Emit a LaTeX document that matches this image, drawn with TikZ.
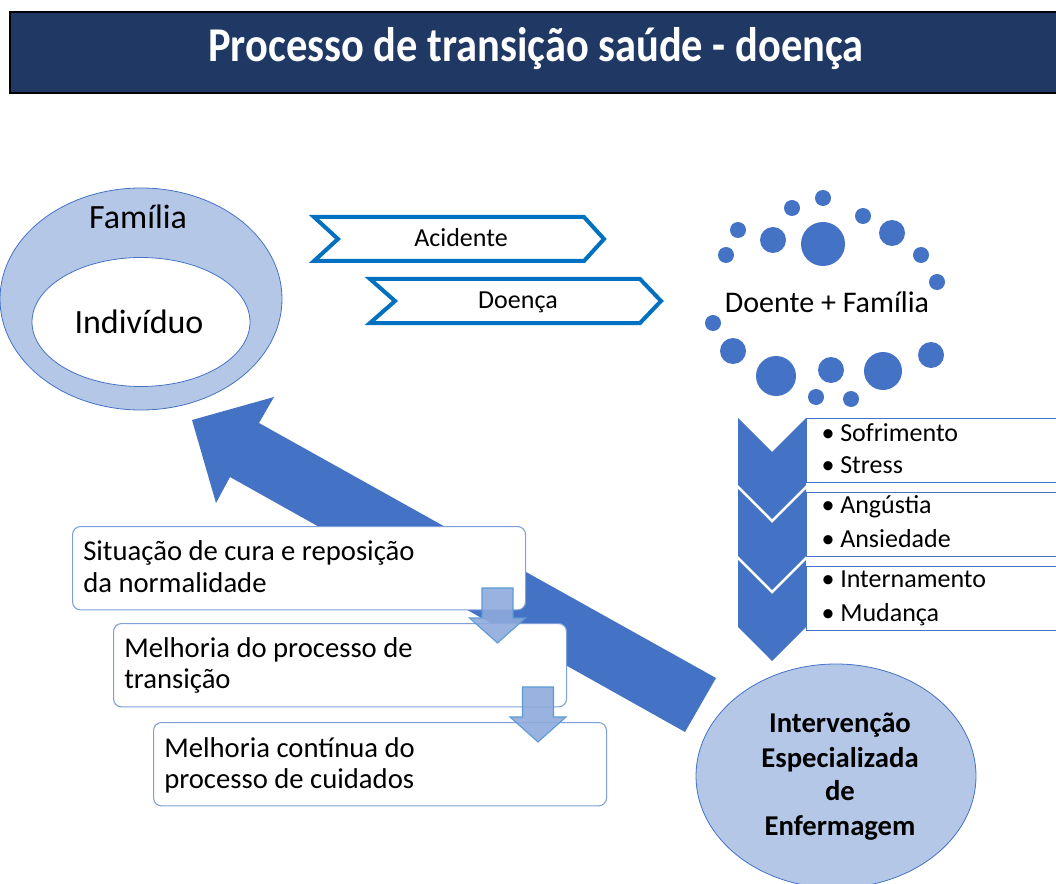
\documentclass[tikz,border=0pt]{standalone}
\usepackage{fontspec}
\setmainfont{Carlito}
\usetikzlibrary{shapes.geometric}
\definecolor{navy}{HTML}{203864}
\definecolor{paleblue}{HTML}{B4C7E7}
\definecolor{accent}{HTML}{4472C4}
\definecolor{chevblue}{HTML}{0070C0}
\definecolor{boxline}{HTML}{7F9FD8}
\definecolor{downfill}{HTML}{8FAADC}
\definecolor{downline}{HTML}{5B9BD5}

\tikzset{
  oval/.style={ellipse, draw=accent, fill=paleblue, line width=0.6pt, inner sep=0pt},
  txt/.style={inner sep=0pt, anchor=base},
  chev/.style={draw=chevblue, fill=white, line width=3pt, line join=miter},
  stepbox/.style={draw=boxline, fill=white, line width=0.8pt, rounded corners=6pt,
    minimum width=339.75pt, minimum height=62.5pt, anchor=north west, inner sep=0pt},
  listbox/.style={draw=accent, fill=white, line width=0.6pt}
}

\begin{document}
\begin{tikzpicture}[x=0.75pt, y=-0.75pt]
    \useasboundingbox (0,0) rectangle (1056,884);

    % Title
    \draw[line width=1.5pt, fill=navy] (10,12) rectangle (1075,93);
    \node[txt, text=white, font=\bfseries\fontsize{32.5}{36}\selectfont] (title) at (536,62)
        {\scalebox{0.98}[1.12]{Processo de transição saúde - doença}};

    % Família / Indivíduo
    \node[oval, minimum width=211.5pt, minimum height=166.5pt] (familia) at (141,299) {};
    \node[oval, fill=white, minimum width=163.5pt, minimum height=96.75pt] (individuo) at (141,322) {};
    \node[txt, font=\fontsize{25.5}{30}\selectfont] (familiatxt) at (138,229) {Família};
    \node[txt, font=\fontsize{25.5}{30}\selectfont] (individuotxt) at (139,333) {Indivíduo};

    % Acidente, Doença
    \draw[chev] (314,217) -- (584,217) -- (604,239) -- (584,261) -- (314,261) -- (338,239) -- cycle;
    \draw[chev] (370,279) -- (640,279) -- (661,301) -- (640,323) -- (370,323) -- (395,301) -- cycle;
    \node[txt, font=\fontsize{19.5}{23}\selectfont] (acidente) at (461,247) {Acidente};
    \node[txt, font=\fontsize{19.5}{23}\selectfont] (doenca) at (518,308) {Doença};

    % Doente + Família
    \foreach \x/\y/\r in {823/198/8, 792/208/8, 863/216/8, 738/230/8, 773/240/13,
                          823/244/22, 892/233/13, 726/255/8, 921/255/8, 937/282/8,
                          713/323/8, 733/351/13, 776/376/20, 831/370/13, 883/371/19,
                          931/355/13, 816/397/8, 851/399/8} {
        \fill[accent] (\x,\y) circle[radius=\r*0.75pt];
    }
    \node[txt, font=\fontsize{22.5}{27}\selectfont] (doente) at (827,312) {Doente + Família};

    % Big return arrow
    \fill[accent] (192,420) -- (274,397) -- (259,423) -- (716,678) -- (685,732)
        -- (230,477) -- (216,503) -- cycle;

    % Chevron list
    \foreach \t in {418, 489, 560} {
        \fill[accent] (738,\t) -- (772,\t+34) -- (806,\t) -- (806,\t+67)
            -- (772,\t+101) -- (738,\t+67) -- cycle;
    }
    \draw[listbox] (806,418) rectangle (1075,482);
    \draw[listbox] (806,492) rectangle (1075,556);
    \draw[listbox] (806,566) rectangle (1075,630);
    \foreach \y/\item in {441/Sofrimento, 473/Stress, 513/Angústia, 547/Ansiedade,
                          587/Internamento, 621/Mudança} {
        \node[txt, font=\fontsize{19.5}{23}\selectfont] at (828,\y) {\textbullet};
        \node[txt, anchor=base west, font=\fontsize{19.5}{23}\selectfont] at (840,\y) {\item};
    }

    % Steps
    \node[stepbox] (cura) at (72,526) {};
    \node[stepbox] (transicao) at (113,623) {};
    \node[stepbox] (cuidados) at (153,722) {};
    \node[txt, anchor=base west, font=\fontsize{21.5}{23.6}\selectfont] at (83,560)
        {Situação de cura e reposição};
    \node[txt, anchor=base west, font=\fontsize{21.5}{23.6}\selectfont] at (83,592)
        {da normalidade};
    \node[txt, anchor=base west, font=\fontsize{21.5}{23.6}\selectfont] at (124,657)
        {Melhoria do processo de};
    \node[txt, anchor=base west, font=\fontsize{21.5}{23.6}\selectfont] at (124,688)
        {transição};
    \node[txt, anchor=base west, font=\fontsize{21.5}{23.6}\selectfont] at (164,757)
        {Melhoria contínua do};
    \node[txt, anchor=base west, font=\fontsize{21.5}{23.6}\selectfont] at (164,788)
        {processo de cuidados};

    % Small down arrows
    \foreach \cx/\ty in {497.5/588, 538/687} {
        \filldraw[fill=downfill, fill opacity=0.9, draw=downline, line width=0.8pt]
            (\cx-15.5,\ty) -- (\cx+15.5,\ty) -- (\cx+15.5,\ty+30) -- (\cx+28,\ty+30)
            -- (\cx,\ty+55) -- (\cx-28,\ty+30) -- (\cx-15.5,\ty+30) -- cycle;
    }

    % Intervenção
    \node[oval, minimum width=210pt, minimum height=168pt] (intervencao) at (836,776) {};
    \foreach \y/\line in {732/Intervenção, 767/Especializada, 800/de, 835/Enfermagem} {
        \node[txt, font=\bfseries\fontsize{21.5}{25}\selectfont] at (840,\y) {\line};
    }
\end{tikzpicture}
\end{document}
